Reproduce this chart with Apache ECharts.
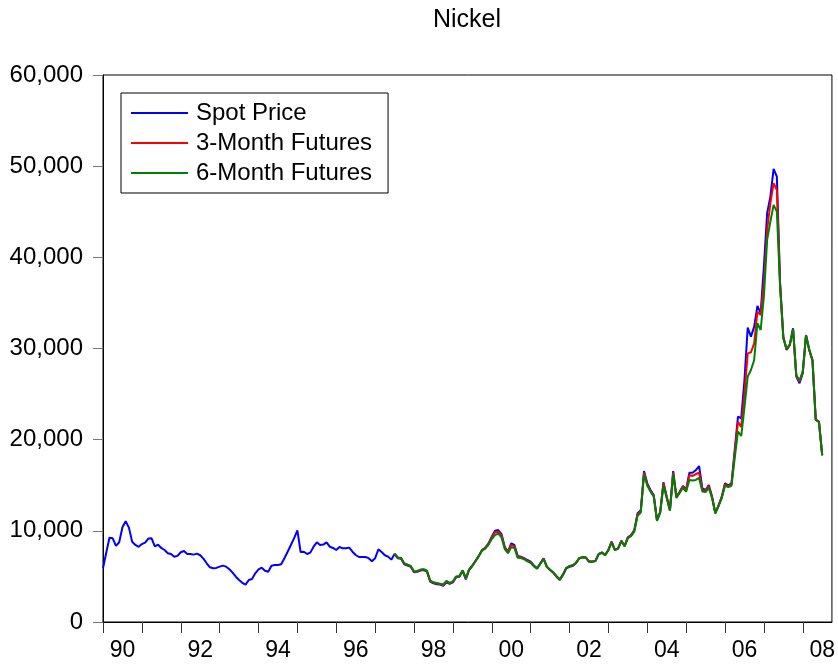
<!DOCTYPE html>
<html>
<head>
<meta charset="utf-8">
<script src="https://cdn.jsdelivr.net/npm/echarts@6/dist/echarts.min.js"></script>
<style>
  html, body { margin: 0; padding: 0; background: #fff; }
  #main { width: 838px; height: 666px; }
</style>
</head>
<body>
<div id="main"></div>
<script>
// monthly, 1990M1 .. 2008M7
var spotPrice = [
    5900, 7600, 9250, 9180, 8350, 8750, 10400, 11050, 10350, 8800, 8450, 8250,
    8550, 8700, 9150, 9180, 8300, 8480, 8120, 7900, 7550, 7460, 7160, 7250,
    7650, 7790, 7460, 7460, 7390, 7500, 7320, 6950, 6440, 6000, 5890, 5930,
    6070, 6180, 6070, 5780, 5410, 4970, 4610, 4300, 4100, 4610, 4720, 5340,
    5780, 5960, 5630, 5520, 6180, 6250, 6250, 6330, 6990, 7710, 8450, 9200,
    10050, 7680, 7710, 7460, 7610, 8260, 8740, 8450, 8490, 8740, 8260, 8120,
    7900, 8230, 8080, 8080, 8160, 7710, 7350, 7130, 7130, 7130, 7000, 6660,
    6990, 7970, 7680, 7320, 7170, 6840, 7460, 6990, 6950, 6330, 6180, 6050,
    5450, 5500, 5650, 5700, 5520, 4420, 4240, 4150, 4100, 3980, 4350, 4200,
    4350, 4900, 4970, 5630, 4680, 5700, 6140, 6690, 7240, 7900, 8150, 8630,
    9360, 10020, 10090, 9650, 8260, 7710, 8630, 8450, 7240, 7170, 7010, 6800,
    6620, 6200, 5890, 6440, 6990, 6070, 5700, 5410, 4970, 4610, 5160, 5890,
    6050, 6140, 6440, 6990, 7090, 7090, 6620, 6620, 6690, 7460, 7640, 7350,
    7900, 8810, 7900, 8080, 8920, 8340, 9290, 9540, 10090, 11920, 12250, 16560,
    15210, 14480, 13930, 11190, 12100, 15320, 13750, 12290, 16560, 13750, 14290, 14920,
    14550, 16380, 16380, 16670, 17110, 14660, 14480, 15030, 13750, 11990, 12800, 13750,
    15210, 14990, 15210, 18870, 22520, 22350, 26500, 32290, 31300, 32400, 34670, 33870,
    38980, 44830, 46660, 49700, 48850, 37160, 31300, 29840, 30390, 32220, 26910, 26190,
    27280, 31480, 29840, 28740, 22160, 21970, 18320
];

// futures start in 1997M7
var futuresStart = 90;
var futures3M = [
    7500, 7050, 7000, 6400, 6250, 6100,
    5500, 5550, 5700, 5750, 5580, 4480, 4300, 4220, 4150, 4050, 4450, 4250,
    4400, 4950, 5000, 5650, 4750, 5750, 6180, 6700, 7250, 7880, 8120, 8580,
    9250, 9850, 9900, 9500, 8150, 7650, 8450, 8300, 7150, 7100, 6950, 6720,
    6550, 6150, 5870, 6420, 6950, 6050, 5700, 5420, 4990, 4640, 5200, 5920,
    6100, 6200, 6480, 7000, 7100, 7080, 6640, 6630, 6700, 7450, 7620, 7350,
    7900, 8780, 7900, 8080, 8900, 8330, 9250, 9500, 10000, 11800, 12150, 16400,
    15100, 14400, 13850, 11150, 12050, 15200, 13700, 12250, 16400, 13700, 14250, 14850,
    14450, 16130, 16020, 16230, 16370, 14480, 14400, 14900, 13700, 11950, 12750, 13700,
    15100, 14900, 15100, 18500, 21950, 21400, 25000, 29470, 29580, 30570, 34040, 33680,
    37160, 43000, 45930, 48130, 47390, 37000, 31200, 29900, 30400, 32150, 27000, 26350,
    27400, 31450, 29850, 28700, 22200, 21950, 18300
];
var futures6M = [
    7500, 7080, 7050, 6450, 6300, 6150,
    5550, 5600, 5750, 5800, 5620, 4550, 4350, 4280, 4200, 4120, 4500, 4300,
    4450, 5000, 5050, 5650, 4800, 5780, 6200, 6700, 7230, 7820, 8050, 8480,
    9100, 9540, 9700, 9300, 8000, 7550, 8200, 8100, 7050, 7020, 6880, 6650,
    6500, 6100, 5850, 6380, 6900, 6050, 5720, 5450, 5020, 4680, 5250, 5950,
    6150, 6250, 6500, 7000, 7100, 7060, 6650, 6640, 6700, 7420, 7580, 7330,
    7880, 8700, 7880, 8050, 8850, 8300, 9200, 9420, 9900, 11650, 12000, 16200,
    14950, 14300, 13750, 11100, 12000, 15000, 13600, 12200, 16200, 13600, 14150, 14700,
    14300, 15580, 15510, 15580, 15800, 14300, 14250, 14700, 13600, 11900, 12700, 13600,
    14950, 14800, 14950, 18000, 20900, 20400, 23500, 26910, 27640, 28740, 32770, 32030,
    35690, 41910, 43910, 45750, 45010, 36800, 31100, 29950, 30450, 32100, 27100, 26500,
    27500, 31400, 29900, 28650, 22250, 21900, 18250
];

var firstYear = 1990;
var lastYear = 2008;
var lastMonth = 10; // axis runs to 2008M10

var months = [];
for (var y = firstYear; y <= lastYear; y++) {
    for (var m = 1; m <= 12; m++) {
        if (y === lastYear && m > lastMonth) break;
        months.push(y + '-' + (m < 10 ? '0' + m : m));
    }
}

function padFutures(arr) {
    var out = [];
    for (var i = 0; i < futuresStart; i++) out.push(null);
    return out.concat(arr);
}

var font = "'Liberation Sans', Arial, sans-serif";

var myChart = echarts.init(document.getElementById('main'));
var option = {
    animation: false,
    backgroundColor: '#fff',
    title: {
        text: 'Nickel',
        left: 462,
        top: 3,
        textAlign: 'center',
        textStyle: {
            fontFamily: font,
            fontSize: 25,
            fontWeight: 'normal',
            color: '#000'
        }
    },
    legend: {
        orient: 'vertical',
        left: 121,
        top: 93,
        padding: [8, 16, 8, 10],
        borderColor: '#000',
        borderWidth: 1,
        icon: 'rect',
        itemWidth: 57,
        itemHeight: 2,
        itemGap: 6,
        data: ['Spot Price', '3-Month Futures', '6-Month Futures'],
        textStyle: {
            fontFamily: font,
            fontSize: 24,
            color: '#000',
            padding: [0, 0, 0, 3]
        }
    },
    grid: {
        left: 103,
        right: 6,
        top: 75,
        bottom: 44,
        show: true,
        borderColor: '#000',
        borderWidth: 1
    },
    xAxis: {
        type: 'category',
        boundaryGap: false,
        data: months,
        axisLine: { lineStyle: { color: '#000', width: 1 } },
        axisTick: {
            interval: function(i) { return i % 12 === 0; },
            length: 11,
            lineStyle: { color: '#333' }
        },
        axisLabel: {
            interval: function(i) { return i % 24 === 6; },
            formatter: function(v) { return v.slice(2, 4); },
            margin: 17,
            fontFamily: font,
            fontSize: 23,
            color: '#000'
        },
        splitLine: { show: false }
    },
    yAxis: {
        type: 'value',
        min: 0,
        max: 60000,
        interval: 10000,
        axisLine: { show: true, lineStyle: { color: '#000', width: 1 } },
        axisTick: { show: true, length: 10, lineStyle: { color: '#777' } },
        axisLabel: {
            margin: 20,
            fontFamily: font,
            fontSize: 24,
            color: '#000',
            formatter: function(v) {
                return String(v).replace(/\B(?=(\d{3})+(?!\d))/g, ',');
            }
        },
        splitLine: { show: false }
    },
    series: [{
        name: 'Spot Price',
        type: 'line',
        data: spotPrice,
        symbol: 'none',
        lineStyle: { color: '#0000ff', width: 2 },
        itemStyle: { color: '#0000ff' }
    }, {
        name: '3-Month Futures',
        type: 'line',
        data: padFutures(futures3M),
        symbol: 'none',
        lineStyle: { color: '#ff0000', width: 2 },
        itemStyle: { color: '#ff0000' }
    }, {
        name: '6-Month Futures',
        type: 'line',
        data: padFutures(futures6M),
        symbol: 'none',
        lineStyle: { color: '#008000', width: 2 },
        itemStyle: { color: '#008000' }
    }]
};
myChart.setOption(option);
</script>
</body>
</html>
